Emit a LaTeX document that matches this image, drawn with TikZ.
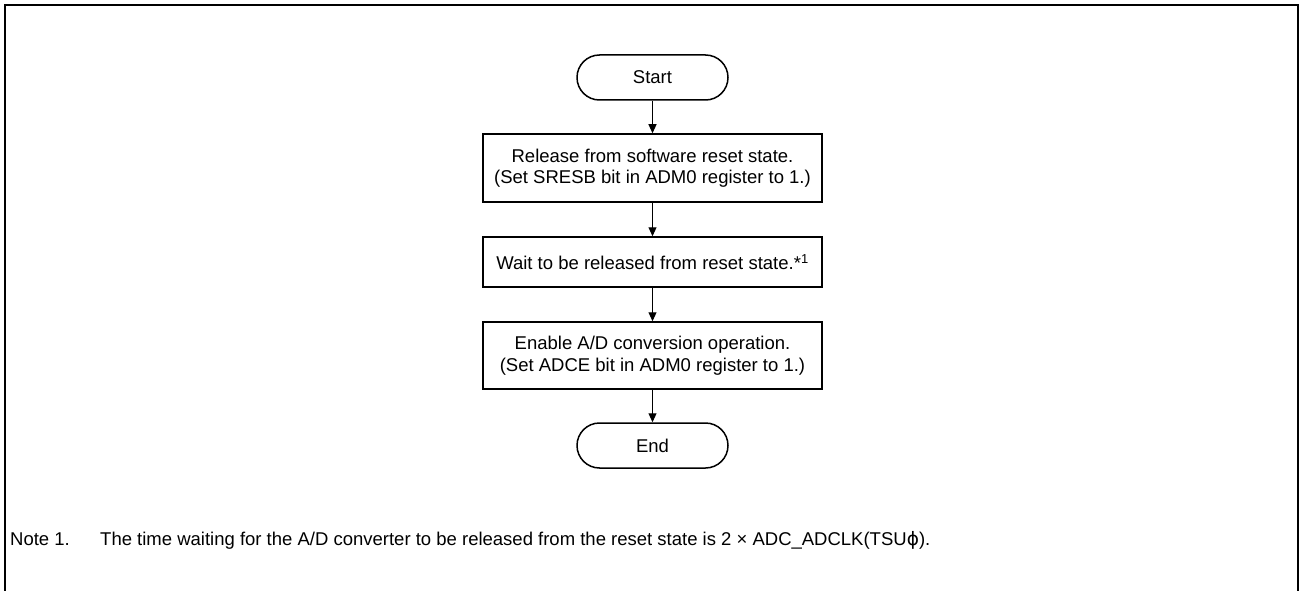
\documentclass[tikz,border=0pt]{standalone}
\usepackage{fontspec}
\setmainfont{Liberation Sans}
\newfontfamily\dejavu{DejaVu Sans}
\usetikzlibrary{arrows.meta}
\tikzset{
  txt/.style={font=\fontsize{18.5}{21.5}\selectfont, align=center, inner sep=0pt},
  term/.style={txt, draw, line width=1.5pt, rounded corners=22.5pt, minimum width=151pt, minimum height=45pt},
  proc/.style={txt, draw, line width=1.5pt, minimum width=339pt},
  flow/.style={line width=1pt, -{Triangle[length=9pt,width=8pt]}},
  frame/.style={line width=2pt},
  note/.style={font=\fontsize{18.5}{21.5}\selectfont, inner sep=0pt, anchor=base west}
}
\begin{document}
\begin{tikzpicture}[x=1pt,y=-1pt]
\useasboundingbox (0,0) rectangle (1301,591);
\draw[frame] (5,600) -- (5,5) -- (1298,5) -- (1298,600);
\node[term] (start) at (652.5,77.5) {Start};
\node[proc, minimum height=68pt] (b1) at (652.5,168) {Release from software reset state.\\(Set SRESB bit in ADM0 register to 1.)};
\node[proc, minimum height=50pt] (b2) at (652.5,262) {Wait to be released from reset state.*\textsuperscript{1}};
\node[proc, minimum height=67pt] (b3) at (652.5,355.5) {Enable A/D conversion operation.\\(Set ADCE bit in ADM0 register to 1.)};
\node[term] (end) at (652.5,445.5) {End};
\draw[flow] (start) -- (b1);
\draw[flow] (b1) -- (b2);
\draw[flow] (b2) -- (b3);
\draw[flow] (b3) -- (end);
\node[note] (n1) at (10,545) {Note 1.};
\node[note] (n2) at (100,545) {The time waiting for the A/D converter to be released from the reset state is 2 × ADC\_ADCLK(TSU{\dejavu ϕ}).};
\end{tikzpicture}
\end{document}
